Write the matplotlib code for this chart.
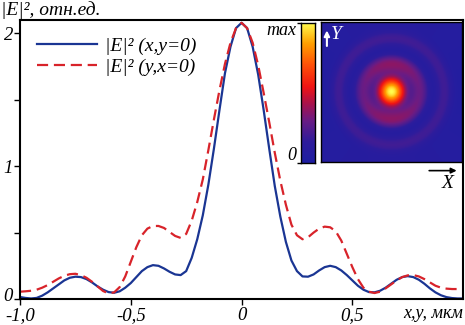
import numpy as np
import matplotlib
matplotlib.use("Agg")
import matplotlib.pyplot as plt
import matplotlib.transforms as mtransforms
from matplotlib.colors import LinearSegmentedColormap

plt.rcParams["font.family"] = ["Liberation Serif", "DejaVu Serif"]
plt.rcParams["font.style"] = "italic"
plt.rcParams["font.size"] = 14

# координата, мкм (шаг 0.025)
x = np.linspace(-1.0, 1.0, 81)

# |E|^2 вдоль x (y=0)
blue_left = [0.015, 0.008, 0.004, 0.008, 0.025, 0.05, 0.08, 0.11, 0.14, 0.16,
             0.168, 0.165, 0.15, 0.125, 0.095, 0.07, 0.052, 0.047, 0.058, 0.085,
             0.12, 0.165, 0.21, 0.24, 0.255, 0.25, 0.23, 0.205, 0.185, 0.18,
             0.21, 0.31, 0.45, 0.63, 0.86, 1.13, 1.42, 1.70, 1.90, 2.04, 2.08]
blue_right = [2.04, 1.90, 1.69, 1.42, 1.13, 0.85, 0.62, 0.43, 0.29, 0.21,
              0.17, 0.168, 0.185, 0.215, 0.24, 0.25, 0.24, 0.215, 0.18, 0.14,
              0.10, 0.07, 0.052, 0.05, 0.062, 0.085, 0.115, 0.145, 0.165, 0.172,
              0.165, 0.145, 0.115, 0.08, 0.05, 0.028, 0.014, 0.007, 0.004, 0.004]
# |E|^2 вдоль y (x=0)
red_left = [0.055, 0.058, 0.062, 0.07, 0.085, 0.105, 0.13, 0.155, 0.175, 0.187,
            0.19, 0.18, 0.16, 0.13, 0.095, 0.06, 0.042, 0.05, 0.09, 0.17,
            0.28, 0.39, 0.48, 0.53, 0.55, 0.55, 0.535, 0.505, 0.475, 0.46,
            0.49, 0.59, 0.73, 0.90, 1.12, 1.35, 1.57, 1.77, 1.93, 2.04, 2.08]
red_right = [2.04, 1.93, 1.76, 1.55, 1.33, 1.10, 0.89, 0.71, 0.56, 0.48,
             0.45, 0.465, 0.50, 0.53, 0.545, 0.54, 0.51, 0.44, 0.34, 0.24,
             0.15, 0.085, 0.055, 0.045, 0.055, 0.08, 0.11, 0.14, 0.165, 0.178,
             0.18, 0.17, 0.15, 0.125, 0.10, 0.085, 0.078, 0.075, 0.075, 0.075]

blue = np.array(blue_left + blue_right)
red = np.array(red_left + red_right)

xticks = [-1.0, -0.5, 0.0, 0.5]
xtick_labels = ["-1,0", "-0,5", "0", "0,5"]
yticks = [0, 1, 2]
ytick_labels = ["0", "1", "2"]

c_blue = "#1a3593"
c_red = "#d8232a"

fig = plt.figure(figsize=(4.65, 3.25), dpi=100)
ax = fig.add_axes([0.043, 0.080, 0.953, 0.858])

ax.plot(x, blue, color=c_blue, lw=1.6, label="|E|² (x,y=0)")
ax.plot(x, red, color=c_red, lw=1.6, dashes=(5, 2.6), label="|E|² (y,x=0)")

ax.set_xlim(-1.0, 1.0)
ax.set_ylim(0, 2.1)
ax.set_xticks(xticks)
ax.set_xticklabels(xtick_labels, fontsize=13.5)
ax.set_yticks(yticks)
ax.set_yticklabels(ytick_labels, fontsize=13.5)
ax.set_yticks([0.5, 1.5], minor=True)
ax.tick_params(which="both", direction="out", length=4, width=1)
ax.tick_params(axis="x", pad=2)
ax.tick_params(axis="y", pad=1)
for s in ax.spines.values():
    s.set_linewidth(1.5)
# подпись 0 по оси y чуть выше, чтобы не наезжала на -1,0
lab0 = ax.get_yticklabels()[0]
lab0.set_transform(lab0.get_transform() +
                   mtransforms.ScaledTranslation(0, 3 / 72, fig.dpi_scale_trans))

ax.legend(loc="upper left", bbox_to_anchor=(0.02, 0.965), frameon=False,
          handlelength=3.1, handletextpad=0.4, labelspacing=0.15,
          borderaxespad=0, fontsize=14)

fig.text(0.003, 0.97, "|E|², отн.ед.", ha="left", va="center")
fig.text(0.995, 0.035, "x,y, мкм", ha="right", va="center", fontsize=13)

# вставка: распределение интенсивности
cmap = LinearSegmentedColormap.from_list("hot_blue", [
    (0.0, "#1e1ea2"), (0.15, "#2e1c9c"), (0.3, "#6a1c84"), (0.42, "#a8124c"),
    (0.54, "#f01414"), (0.7, "#ff5208"), (0.85, "#ffa000"), (1.0, "#ffff50")])

g = np.linspace(-1, 1, 141)
X, Y = np.meshgrid(g, g)
R = np.hypot(X, Y)
half = x >= 0
px = np.interp(R, x[half], blue[half])
py = np.interp(R, x[half], red[half])
cos2 = np.where(R > 0, X ** 2 / np.maximum(R, 1e-9) ** 2, 1.0)
field = 0.5 * (px + py) * 0.6 + 0.4 * (cos2 * px + (1 - cos2) * py)
field = (field / field.max()) ** 0.66

iax = fig.add_axes([0.690, 0.5015, 0.303, 0.431])
iax.imshow(field, cmap=cmap, vmin=0, vmax=1, origin="lower",
           extent=(-1, 1, -1, 1), interpolation="bilinear", aspect="auto")
iax.set_xticks([])
iax.set_yticks([])
for s in iax.spines.values():
    s.set_linewidth(1)

cax = fig.add_axes([0.647, 0.4985, 0.030, 0.431])
cax.imshow(np.linspace(0, 1, 256).reshape(-1, 1), cmap=cmap, origin="lower",
           aspect="auto", extent=(0, 1, 0, 1))
cax.set_xticks([])
cax.set_yticks([0, 1])
cax.set_yticklabels(["", ""])
cax.tick_params(direction="out", length=3, width=1)
for s in cax.spines.values():
    s.set_linewidth(1)
fig.text(0.638, 0.905, "max", ha="right", va="center", fontsize=13)
fig.text(0.638, 0.52, "0", ha="right", va="center", fontsize=13)

# стрелки осей
fig.add_artist(matplotlib.patches.FancyArrowPatch(
    (0.703, 0.85), (0.703, 0.915), transform=fig.transFigure,
    arrowstyle="-|>", mutation_scale=8, color="white", lw=1.5))
fig.text(0.712, 0.895, "Y", color="white", ha="left", va="center", fontsize=14)
fig.add_artist(matplotlib.patches.FancyArrowPatch(
    (0.917, 0.475), (0.988, 0.475), transform=fig.transFigure,
    arrowstyle="-|>", mutation_scale=8, color="black", lw=1.2))
fig.text(0.962, 0.435, "X", ha="center", va="center", fontsize=14)

fig.savefig("out.png", dpi=100)
